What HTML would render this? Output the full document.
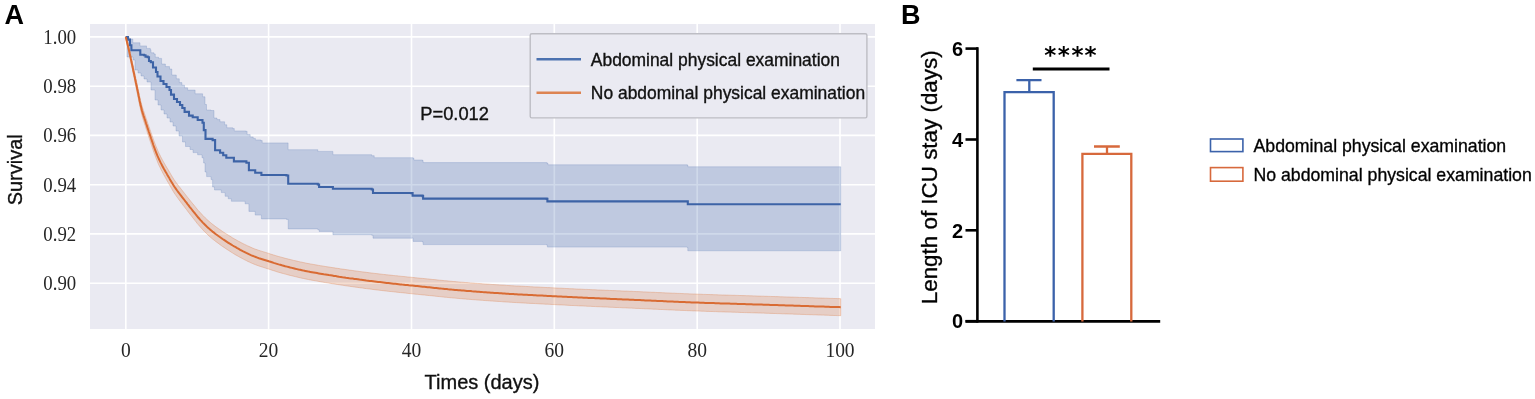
<!DOCTYPE html>
<html><head><meta charset="utf-8"><style>
html,body{margin:0;padding:0;background:#fff;}
body{width:1535px;height:399px;overflow:hidden;}
svg{display:block;}
.sans{font-family:"Liberation Sans",Arial,sans-serif;}
.heavy{stroke:#111;stroke-width:0.35px;}
.serif{font-family:"Liberation Serif","Times New Roman",serif;}
</style></head><body>
<svg width="1535" height="399" viewBox="0 0 1535 399">
<rect x="0" y="0" width="1535" height="399" fill="#fff"/>
<!-- Panel A -->
<text class="sans" x="4.6" y="24" font-size="27" font-weight="bold" fill="#000">A</text>
<rect x="90" y="24" width="785" height="305" fill="#EAEAF2"/>
<g stroke="#fff" stroke-width="1.6">
<line x1="90" y1="36.9" x2="875" y2="36.9"/>
<line x1="90" y1="86.2" x2="875" y2="86.2"/>
<line x1="90" y1="135.4" x2="875" y2="135.4"/>
<line x1="90" y1="184.7" x2="875" y2="184.7"/>
<line x1="90" y1="233.9" x2="875" y2="233.9"/>
<line x1="90" y1="283.2" x2="875" y2="283.2"/>
<line x1="125.8" y1="24" x2="125.8" y2="329"/>
<line x1="268.6" y1="24" x2="268.6" y2="329"/>
<line x1="411.5" y1="24" x2="411.5" y2="329"/>
<line x1="554.3" y1="24" x2="554.3" y2="329"/>
<line x1="697.2" y1="24" x2="697.2" y2="329"/>
<line x1="840.0" y1="24" x2="840.0" y2="329"/>
</g>
<path d="M125.8 37 L129 37 L129 39 L132.8 39 L132.8 42.8 L140 42.8 L140 45.9 L146.5 45.9 L146.5 48.4 L150.3 48.4 L150.3 49.7 L151 49.7 L151 52.8 L154 52.8 L154 54 L155.3 54 L155.3 57.2 L158.5 57.2 L158.5 58.4 L161.6 58.4 L161.6 64 L165.4 64 L165.4 66.6 L169.5 66.6 L169.5 69 L171.8 69 L171.8 75 L176.3 75 L176.3 78.8 L179.3 78.8 L179.3 82.6 L181.9 82.6 L181.9 85.2 L184.5 85.2 L184.5 87.8 L187.6 87.8 L187.6 90.1 L195.1 90.1 L195.1 93.8 L202.6 93.8 L202.6 96.8 L205 96.8 L205 104.5 L206.5 104.5 L206.5 110 L211 110 L211 110.5 L214 110.5 L214 118 L217 118 L217 119.6 L220 119.6 L220 121.8 L224.6 121.8 L224.6 124.8 L226.8 124.8 L226.8 127.8 L232.8 127.8 L232.8 128.6 L234.3 128.6 L234.3 130.9 L245.6 130.9 L245.6 131.3 L247.1 131.3 L247.1 134.6 L250.2 134.6 L250.2 136.9 L253.2 136.9 L253.2 138.4 L255.4 138.4 L255.4 139.9 L260.7 139.9 L260.7 140.6 L262.2 140.6 L262.2 142.9 L287 142.9 L287 142.9 L288.1 142.9 L288.1 149.7 L317.8 149.7 L317.8 151.4 L332.9 151.4 L332.9 154.7 L371.7 154.7 L371.7 155.7 L374.2 155.7 L374.2 157.7 L412.6 157.7 L412.6 158 L413.8 158 L413.8 160 L422.6 160 L422.6 160.6 L423.1 160.6 L423.1 162.6 L546.7 162.6 L546.7 163.1 L547.9 163.1 L547.9 164.8 L687.3 164.8 L687.3 165.1 L687.8 165.1 L687.8 166.8 L840.7 166.8 L840.7 166.8 L840.7 250.8 L840.7 250.8 L687.8 250.8 L687.8 247.5 L687.3 247.5 L687.3 247.1 L547.4 247.1 L547.4 245.1 L546.7 245.1 L546.7 244.6 L423.1 244.6 L423.1 242.1 L422.6 242.1 L422.6 241.4 L413.1 241.4 L413.1 238.1 L412.1 238.1 L412.1 238.2 L373 238.2 L373 235.2 L371.7 235.2 L371.7 234.7 L332.9 234.7 L332.9 231.4 L319.1 231.4 L319.1 229.6 L317.8 229.6 L317.8 228.9 L288.2 228.9 L288.2 219.4 L286.5 219.4 L286.5 218.9 L261.4 218.9 L261.4 215.1 L255.2 215.1 L255.2 211.4 L248.9 211.4 L248.9 203.8 L245.1 203.8 L245.1 201.3 L231.4 201.3 L231.4 198.8 L228.2 198.8 L228.2 196.3 L225.1 196.3 L225.1 192.6 L221.3 192.6 L221.3 190 L214.5 190 L214.5 187 L212.6 187 L212.6 179.6 L211 179.6 L211 176.6 L206.6 176.6 L206.6 172 L205 172 L205 163 L203.6 163 L203.6 157.8 L202 157.8 L202 154.8 L197.6 154.8 L197.6 152.6 L193 152.6 L193 149.5 L190 149.5 L190 146.5 L185.5 146.5 L185.5 142 L182.5 142 L182.5 136 L179 136 L179 131 L176 131 L176 126 L173 126 L173 122 L170 122 L170 118 L167 118 L167 114 L164 114 L164 110 L161 110 L161 105 L158 105 L158 100 L155 100 L155 90 L151 90 L151 82 L147 82 L147 79 L144 79 L144 76 L141 76 L141 73 L138 73 L138 70 L135 70 L135 60 L133 60 L133 57 L127 57 L127 37 L125.8 37Z" fill="#4C72B0" fill-opacity="0.27" stroke="#4C72B0" stroke-opacity="0.22" stroke-width="1"/>
<path d="M125.8 36.0 L126.2 37.1 L126.6 38.5 L127.0 40.0 L127.4 41.5 L127.8 43.0 L128.2 44.6 L128.6 46.1 L129.0 47.7 L129.4 49.3 L129.7 50.8 L130.1 52.4 L130.5 54.0 L130.8 55.6 L131.2 57.2 L131.5 58.8 L131.9 60.4 L132.3 62.0 L132.6 63.6 L133.0 65.2 L133.3 66.8 L133.7 68.5 L134.1 70.1 L134.4 71.7 L134.8 73.3 L135.1 74.9 L135.5 76.5 L135.8 78.2 L136.2 79.8 L136.5 81.4 L136.9 83.0 L137.2 84.7 L137.6 86.3 L137.9 87.9 L138.3 89.5 L138.6 91.2 L139.0 92.8 L139.3 94.5 L139.6 96.1 L140.0 97.7 L140.4 99.3 L140.7 101.0 L141.2 102.6 L141.6 104.2 L142.0 105.8 L142.5 107.4 L143.0 109.0 L143.5 110.6 L144.1 112.2 L144.6 113.8 L145.2 115.4 L145.7 117.0 L146.2 118.6 L146.8 120.1 L147.3 121.7 L147.8 123.3 L148.4 124.9 L148.9 126.5 L149.5 128.1 L150.0 129.7 L150.6 131.3 L151.1 132.9 L151.7 134.4 L152.2 136.0 L152.8 137.6 L153.3 139.2 L153.9 140.8 L154.5 142.4 L155.1 144.0 L155.7 145.5 L156.3 147.1 L157.0 148.6 L157.6 150.2 L158.3 151.7 L159.0 153.3 L159.8 154.8 L160.5 156.3 L161.3 157.8 L162.1 159.3 L162.9 160.8 L163.7 162.2 L164.6 163.7 L165.4 165.2 L166.3 166.6 L167.1 168.1 L168.0 169.5 L168.9 171.0 L169.7 172.4 L170.6 173.9 L171.5 175.4 L172.3 176.8 L173.2 178.2 L174.1 179.7 L175.1 181.1 L176.1 182.5 L177.1 183.8 L178.1 185.2 L179.1 186.5 L180.2 187.8 L181.2 189.2 L182.3 190.5 L183.3 191.8 L184.4 193.2 L185.4 194.5 L186.5 195.9 L187.5 197.2 L188.6 198.5 L189.6 199.8 L190.7 201.2 L191.8 202.5 L192.8 203.8 L193.9 205.1 L195.0 206.4 L196.1 207.8 L197.1 209.1 L198.2 210.4 L199.4 211.6 L200.5 212.9 L201.7 214.1 L202.8 215.4 L204.0 216.6 L205.2 217.8 L206.5 219.0 L207.7 220.1 L209.0 221.3 L210.3 222.4 L211.6 223.5 L212.9 224.5 L214.3 225.6 L215.6 226.6 L217.0 227.6 L218.4 228.6 L219.8 229.5 L221.2 230.5 L222.6 231.5 L224.0 232.4 L225.5 233.4 L226.9 234.3 L228.4 235.2 L229.8 236.1 L231.3 237.0 L232.7 237.9 L234.2 238.8 L235.7 239.6 L237.2 240.5 L238.7 241.3 L240.2 242.1 L241.7 242.9 L243.2 243.7 L244.7 244.4 L246.3 245.2 L247.8 245.9 L249.4 246.6 L250.9 247.3 L252.5 248.0 L254.1 248.7 L255.7 249.3 L257.3 249.8 L258.9 250.4 L260.6 250.9 L262.2 251.4 L263.8 251.9 L265.5 252.4 L267.1 252.9 L268.8 253.4 L270.4 254.0 L272.0 254.5 L273.7 255.0 L275.3 255.5 L276.9 256.0 L278.6 256.5 L280.2 256.9 L281.9 257.4 L283.5 257.8 L285.2 258.3 L286.9 258.7 L288.5 259.1 L290.2 259.5 L291.9 259.9 L293.5 260.4 L295.2 260.7 L296.9 261.1 L298.5 261.5 L300.2 261.9 L301.9 262.2 L303.6 262.6 L305.2 262.9 L306.9 263.3 L308.6 263.6 L310.3 263.9 L312.0 264.2 L313.7 264.5 L315.4 264.8 L317.1 265.1 L318.7 265.4 L320.4 265.7 L322.1 265.9 L323.8 266.2 L325.5 266.5 L327.2 266.8 L328.9 267.0 L330.6 267.3 L332.3 267.6 L334.0 267.8 L335.7 268.1 L337.4 268.3 L339.1 268.6 L340.8 268.9 L342.5 269.1 L344.2 269.3 L345.9 269.6 L347.6 269.8 L349.3 270.1 L351.0 270.3 L352.7 270.5 L354.4 270.8 L356.1 271.0 L357.8 271.2 L359.5 271.5 L361.2 271.7 L362.9 271.9 L364.6 272.1 L366.3 272.3 L368.0 272.6 L369.7 272.8 L371.4 273.0 L373.1 273.2 L374.8 273.4 L376.5 273.6 L378.2 273.8 L379.9 274.0 L381.6 274.2 L383.3 274.4 L385.0 274.6 L386.7 274.8 L388.4 274.9 L390.1 275.1 L391.8 275.3 L393.5 275.5 L395.3 275.7 L397.0 275.8 L398.7 276.0 L400.4 276.2 L402.1 276.4 L403.8 276.5 L405.5 276.7 L407.2 276.9 L408.9 277.1 L410.6 277.2 L412.3 277.4 L414.0 277.6 L415.7 277.8 L417.4 277.9 L419.1 278.1 L420.9 278.3 L422.6 278.4 L424.3 278.6 L426.0 278.8 L427.7 278.9 L429.4 279.1 L431.1 279.3 L432.8 279.5 L434.5 279.6 L436.2 279.8 L437.9 280.0 L439.6 280.2 L441.3 280.3 L443.1 280.5 L444.8 280.7 L446.5 280.8 L448.2 281.0 L449.9 281.2 L451.6 281.3 L453.3 281.5 L455.0 281.6 L456.7 281.8 L458.4 281.9 L460.1 282.1 L461.8 282.2 L463.6 282.3 L465.3 282.5 L467.0 282.6 L468.7 282.7 L470.4 282.9 L472.1 283.0 L473.8 283.1 L475.5 283.3 L477.2 283.4 L479.0 283.5 L480.7 283.6 L482.4 283.8 L484.1 283.9 L485.8 284.0 L487.5 284.1 L489.2 284.2 L490.9 284.4 L492.7 284.5 L494.4 284.6 L496.1 284.7 L497.8 284.8 L499.5 284.9 L501.2 285.0 L502.9 285.1 L504.6 285.2 L506.4 285.4 L508.1 285.5 L509.8 285.6 L511.5 285.7 L513.2 285.8 L514.9 285.9 L516.6 286.0 L518.3 286.0 L520.1 286.1 L521.8 286.2 L523.5 286.3 L525.2 286.4 L526.9 286.5 L528.6 286.6 L530.3 286.7 L532.1 286.8 L533.8 286.9 L535.5 287.0 L537.2 287.0 L538.9 287.1 L540.6 287.2 L542.3 287.3 L544.0 287.4 L545.8 287.5 L547.5 287.6 L549.2 287.6 L550.9 287.7 L552.6 287.8 L554.3 287.9 L556.0 288.0 L557.8 288.1 L559.5 288.2 L561.2 288.2 L562.9 288.3 L564.6 288.4 L566.3 288.5 L568.0 288.6 L569.8 288.7 L571.5 288.7 L573.2 288.8 L574.9 288.9 L576.6 289.0 L578.3 289.1 L580.0 289.1 L581.8 289.2 L583.5 289.3 L585.2 289.4 L586.9 289.4 L588.6 289.5 L590.3 289.6 L592.0 289.7 L593.8 289.7 L595.5 289.8 L597.2 289.9 L598.9 290.0 L600.6 290.0 L602.3 290.1 L604.0 290.2 L605.8 290.3 L607.5 290.3 L609.2 290.4 L610.9 290.5 L612.6 290.6 L614.3 290.6 L616.0 290.7 L617.8 290.8 L619.5 290.8 L621.2 290.9 L622.9 291.0 L624.6 291.1 L626.3 291.1 L628.0 291.2 L629.8 291.3 L631.5 291.3 L633.2 291.4 L634.9 291.5 L636.6 291.6 L638.3 291.6 L640.0 291.7 L641.8 291.8 L643.5 291.9 L645.2 291.9 L646.9 292.0 L648.6 292.1 L650.3 292.2 L652.0 292.3 L653.8 292.3 L655.5 292.4 L657.2 292.5 L658.9 292.6 L660.6 292.6 L662.3 292.7 L664.0 292.8 L665.8 292.9 L667.5 292.9 L669.2 293.0 L670.9 293.1 L672.6 293.2 L674.3 293.2 L676.0 293.3 L677.8 293.4 L679.5 293.4 L681.2 293.5 L682.9 293.6 L684.6 293.7 L686.3 293.7 L688.1 293.8 L689.8 293.9 L691.5 293.9 L693.2 294.0 L694.9 294.0 L696.6 294.1 L698.3 294.2 L700.1 294.2 L701.8 294.3 L703.5 294.4 L705.2 294.4 L706.9 294.5 L708.6 294.5 L710.3 294.6 L712.1 294.6 L713.8 294.7 L715.5 294.7 L717.2 294.8 L718.9 294.9 L720.6 294.9 L722.4 295.0 L724.1 295.0 L725.8 295.1 L727.5 295.1 L729.2 295.2 L730.9 295.2 L732.6 295.3 L734.4 295.3 L736.1 295.4 L737.8 295.4 L739.5 295.5 L741.2 295.5 L742.9 295.6 L744.7 295.6 L746.4 295.7 L748.1 295.7 L749.8 295.8 L751.5 295.8 L753.2 295.9 L754.9 295.9 L756.7 296.0 L758.4 296.1 L760.1 296.1 L761.8 296.2 L763.5 296.2 L765.2 296.3 L766.9 296.3 L768.7 296.4 L770.4 296.4 L772.1 296.5 L773.8 296.5 L775.5 296.6 L777.2 296.6 L779.0 296.7 L780.7 296.8 L782.4 296.8 L784.1 296.9 L785.8 296.9 L787.5 297.0 L789.2 297.0 L791.0 297.1 L792.7 297.1 L794.4 297.2 L796.1 297.2 L797.8 297.3 L799.5 297.4 L801.3 297.4 L803.0 297.5 L804.7 297.5 L806.4 297.6 L808.1 297.6 L809.8 297.7 L811.5 297.7 L813.3 297.8 L815.0 297.9 L816.7 297.9 L818.4 298.0 L820.1 298.0 L821.8 298.1 L823.5 298.1 L825.3 298.2 L827.0 298.2 L828.7 298.3 L830.4 298.4 L832.1 298.4 L833.8 298.5 L835.6 298.5 L837.3 298.6 L839.0 298.6 L840.7 298.7 L840.7 315.7 L839.0 315.6 L837.3 315.6 L835.6 315.5 L833.8 315.5 L832.1 315.4 L830.4 315.4 L828.7 315.3 L827.0 315.2 L825.3 315.2 L823.5 315.1 L821.8 315.1 L820.1 315.0 L818.4 315.0 L816.7 314.9 L815.0 314.8 L813.3 314.8 L811.5 314.7 L809.8 314.7 L808.1 314.6 L806.4 314.6 L804.7 314.5 L803.0 314.4 L801.3 314.4 L799.5 314.3 L797.8 314.3 L796.1 314.2 L794.4 314.2 L792.7 314.1 L791.0 314.0 L789.2 314.0 L787.5 313.9 L785.8 313.9 L784.1 313.8 L782.4 313.8 L780.7 313.7 L779.0 313.6 L777.2 313.6 L775.5 313.5 L773.8 313.5 L772.1 313.4 L770.4 313.4 L768.7 313.3 L766.9 313.3 L765.2 313.2 L763.5 313.1 L761.8 313.1 L760.1 313.0 L758.4 313.0 L756.7 312.9 L754.9 312.9 L753.2 312.8 L751.5 312.8 L749.8 312.7 L748.1 312.7 L746.4 312.6 L744.7 312.6 L742.9 312.5 L741.2 312.5 L739.5 312.4 L737.8 312.3 L736.1 312.3 L734.4 312.2 L732.6 312.2 L730.9 312.1 L729.2 312.1 L727.5 312.0 L725.8 312.0 L724.1 311.9 L722.4 311.9 L720.6 311.8 L718.9 311.8 L717.2 311.7 L715.5 311.6 L713.8 311.6 L712.1 311.5 L710.3 311.5 L708.6 311.4 L706.9 311.4 L705.2 311.3 L703.5 311.2 L701.8 311.2 L700.1 311.1 L698.3 311.0 L696.6 311.0 L694.9 310.9 L693.2 310.9 L691.5 310.8 L689.8 310.7 L688.1 310.7 L686.3 310.6 L684.6 310.5 L682.9 310.4 L681.2 310.4 L679.5 310.3 L677.8 310.2 L676.0 310.2 L674.3 310.1 L672.6 310.0 L670.9 309.9 L669.2 309.9 L667.5 309.8 L665.8 309.7 L664.0 309.6 L662.3 309.5 L660.6 309.5 L658.9 309.4 L657.2 309.3 L655.5 309.2 L653.8 309.2 L652.0 309.1 L650.3 309.0 L648.6 308.9 L646.9 308.8 L645.2 308.8 L643.5 308.7 L641.8 308.6 L640.0 308.5 L638.3 308.4 L636.6 308.4 L634.9 308.3 L633.2 308.2 L631.5 308.1 L629.8 308.1 L628.0 308.0 L626.3 307.9 L624.6 307.8 L622.9 307.8 L621.2 307.7 L619.5 307.6 L617.8 307.5 L616.0 307.5 L614.3 307.4 L612.6 307.3 L610.9 307.3 L609.2 307.2 L607.5 307.1 L605.8 307.0 L604.0 307.0 L602.3 306.9 L600.6 306.8 L598.9 306.7 L597.2 306.7 L595.5 306.6 L593.8 306.5 L592.0 306.4 L590.3 306.3 L588.6 306.3 L586.9 306.2 L585.2 306.1 L583.5 306.0 L581.8 305.9 L580.0 305.9 L578.3 305.8 L576.6 305.7 L574.9 305.6 L573.2 305.5 L571.5 305.5 L569.8 305.4 L568.0 305.3 L566.3 305.2 L564.6 305.1 L562.9 305.0 L561.2 304.9 L559.5 304.9 L557.8 304.8 L556.0 304.7 L554.3 304.6 L552.6 304.5 L550.9 304.4 L549.2 304.3 L547.5 304.2 L545.8 304.2 L544.0 304.1 L542.3 304.0 L540.6 303.9 L538.9 303.8 L537.2 303.7 L535.5 303.6 L533.8 303.5 L532.1 303.4 L530.3 303.4 L528.6 303.3 L526.9 303.2 L525.2 303.1 L523.5 303.0 L521.8 302.9 L520.1 302.8 L518.3 302.7 L516.6 302.6 L514.9 302.5 L513.2 302.4 L511.5 302.3 L509.8 302.2 L508.1 302.1 L506.4 302.0 L504.6 301.9 L502.9 301.8 L501.2 301.6 L499.5 301.5 L497.8 301.4 L496.1 301.3 L494.4 301.2 L492.7 301.1 L490.9 301.0 L489.2 300.8 L487.5 300.7 L485.8 300.6 L484.1 300.5 L482.4 300.3 L480.7 300.2 L479.0 300.1 L477.2 300.0 L475.5 299.8 L473.8 299.7 L472.1 299.6 L470.4 299.4 L468.7 299.3 L467.0 299.2 L465.3 299.0 L463.6 298.9 L461.8 298.7 L460.1 298.6 L458.4 298.4 L456.7 298.3 L455.0 298.1 L453.3 298.0 L451.6 297.8 L449.9 297.7 L448.2 297.5 L446.5 297.3 L444.8 297.2 L443.1 297.0 L441.3 296.8 L439.6 296.6 L437.9 296.4 L436.2 296.3 L434.5 296.1 L432.8 295.9 L431.1 295.7 L429.4 295.6 L427.7 295.4 L426.0 295.2 L424.3 295.0 L422.6 294.9 L420.9 294.7 L419.1 294.5 L417.4 294.3 L415.7 294.2 L414.0 294.0 L412.3 293.8 L410.6 293.6 L408.9 293.5 L407.2 293.3 L405.5 293.1 L403.8 292.9 L402.1 292.7 L400.4 292.6 L398.7 292.4 L397.0 292.2 L395.3 292.0 L393.5 291.8 L391.8 291.6 L390.1 291.5 L388.4 291.3 L386.7 291.1 L385.0 290.9 L383.3 290.7 L381.6 290.5 L379.9 290.3 L378.2 290.1 L376.5 289.9 L374.8 289.7 L373.1 289.5 L371.4 289.2 L369.7 289.0 L368.0 288.8 L366.3 288.6 L364.6 288.4 L362.9 288.1 L361.2 287.9 L359.5 287.7 L357.8 287.4 L356.1 287.2 L354.4 287.0 L352.7 286.7 L351.0 286.5 L349.3 286.2 L347.6 286.0 L345.9 285.8 L344.2 285.5 L342.5 285.2 L340.8 285.0 L339.1 284.7 L337.4 284.5 L335.7 284.2 L334.0 283.9 L332.3 283.7 L330.6 283.4 L328.9 283.1 L327.2 282.8 L325.5 282.6 L323.8 282.3 L322.1 282.0 L320.4 281.7 L318.7 281.4 L317.1 281.1 L315.4 280.8 L313.7 280.5 L312.0 280.2 L310.3 279.9 L308.6 279.6 L306.9 279.2 L305.2 278.9 L303.6 278.5 L301.9 278.2 L300.2 277.8 L298.5 277.4 L296.9 277.0 L295.2 276.6 L293.5 276.2 L291.9 275.8 L290.2 275.4 L288.5 275.0 L286.9 274.5 L285.2 274.1 L283.5 273.6 L281.9 273.2 L280.2 272.7 L278.6 272.3 L276.9 271.8 L275.3 271.2 L273.7 270.7 L272.0 270.2 L270.4 269.6 L268.8 269.1 L267.1 268.6 L265.5 268.1 L263.8 267.5 L262.2 267.0 L260.6 266.5 L258.9 266.0 L257.3 265.4 L255.7 264.8 L254.1 264.2 L252.5 263.5 L250.9 262.8 L249.4 262.1 L247.8 261.4 L246.3 260.6 L244.7 259.8 L243.2 259.0 L241.7 258.2 L240.2 257.4 L238.7 256.6 L237.2 255.7 L235.7 254.9 L234.2 254.0 L232.7 253.1 L231.3 252.2 L229.8 251.2 L228.4 250.3 L226.9 249.4 L225.5 248.4 L224.0 247.4 L222.6 246.5 L221.2 245.5 L219.8 244.5 L218.4 243.4 L217.0 242.4 L215.6 241.4 L214.3 240.3 L212.9 239.3 L211.6 238.2 L210.3 237.1 L209.0 235.9 L207.7 234.7 L206.5 233.5 L205.2 232.3 L204.0 231.1 L202.8 229.8 L201.7 228.5 L200.5 227.2 L199.4 225.9 L198.2 224.6 L197.1 223.3 L196.1 221.9 L195.0 220.6 L193.9 219.2 L192.8 217.8 L191.8 216.5 L190.7 215.1 L189.6 213.7 L188.6 212.4 L187.5 211.0 L186.5 209.6 L185.4 208.2 L184.4 206.8 L183.3 205.5 L182.3 204.1 L181.2 202.7 L180.2 201.3 L179.1 199.9 L178.1 198.5 L177.1 197.1 L176.1 195.7 L175.1 194.3 L174.1 192.8 L173.2 191.3 L172.3 189.9 L171.5 188.3 L170.6 186.8 L169.7 185.3 L168.9 183.8 L168.0 182.3 L167.1 180.8 L166.3 179.3 L165.4 177.7 L164.6 176.2 L163.7 174.7 L162.9 173.2 L162.1 171.6 L161.3 170.1 L160.5 168.5 L159.8 166.9 L159.0 165.4 L158.3 163.8 L157.6 162.2 L157.0 160.5 L156.3 158.9 L155.7 157.3 L155.1 155.7 L154.5 154.0 L153.9 152.4 L153.3 150.7 L152.8 149.0 L152.2 147.4 L151.7 145.7 L151.1 144.1 L150.6 142.4 L150.0 140.7 L149.5 139.1 L148.9 137.4 L148.4 135.7 L147.8 134.1 L147.3 132.4 L146.8 130.7 L146.2 129.1 L145.7 127.4 L145.2 125.7 L144.6 124.0 L144.1 122.4 L143.5 120.7 L143.0 119.0 L142.5 117.3 L142.0 115.6 L141.6 114.0 L141.2 112.2 L140.7 110.5 L140.4 108.8 L140.0 107.1 L139.6 105.4 L139.3 103.6 L139.0 101.9 L138.6 100.2 L138.3 98.4 L137.9 96.7 L137.6 95.0 L137.2 93.2 L136.9 91.5 L136.5 89.8 L136.2 88.0 L135.8 86.3 L135.5 84.6 L135.1 82.8 L134.8 81.1 L134.4 79.3 L134.1 77.6 L133.7 75.9 L133.3 74.1 L133.0 72.4 L132.6 70.6 L132.3 68.9 L131.9 67.1 L131.5 65.4 L131.2 63.6 L130.8 61.9 L130.5 60.1 L130.1 58.3 L129.7 56.6 L129.4 54.8 L129.0 53.0 L128.6 51.2 L128.2 49.4 L127.8 47.7 L127.4 45.8 L127.0 44.0 L126.6 42.2 L126.2 40.3 L125.8 38.0Z" fill="#DD8452" fill-opacity="0.27" stroke="#DD8452" stroke-opacity="0.4" stroke-width="0.9"/>
<path d="M125.8 37H128V39.6H130V45.3H131.4V50.3H140.3V54.7H144V55.3H145.5V56.6H147.7V57.2H149V61H150.8V62.3H153V67.5H156V72H157.5V76.5H160.5V81H163.5V84H166.5V87H169.5V90H171V94.6H174V99H177V102H180V105H182.3V108H184.6V111.9H189V115.6H192.7V117.2H197.7V120H202.5V122.8H203.8V130.1H205.5V138.9H212.6V140.1H215.1V150.2H220.1V152.7H223.2V155.2H226.3V157.7H233.9V161.4H246.4V162.7H248.9V170.2H255.2V172.7H261.4V175H286.5V175.5H288.2V183.8H317.8V184.5H319.1V187H332.9V188.8H371.7V189.5H373V193H411.3V193.1H412.6V195.6H422.6V196.1H423.1V198.6H546.7V198.9H547.4V201.4H687.3V201.4H687.8V204.2H840.7V204.2" fill="none" stroke="#3D63A6" stroke-width="2.1" stroke-linejoin="miter"/>
<path d="M125.8 37.0 L126.2 38.7 L126.6 40.3 L127.0 42.0 L127.4 43.7 L127.8 45.3 L128.2 47.0 L128.6 48.7 L129.0 50.4 L129.4 52.0 L129.7 53.7 L130.1 55.4 L130.5 57.1 L130.8 58.7 L131.2 60.4 L131.5 62.1 L131.9 63.8 L132.3 65.4 L132.6 67.1 L133.0 68.8 L133.3 70.5 L133.7 72.2 L134.1 73.8 L134.4 75.5 L134.8 77.2 L135.1 78.9 L135.5 80.6 L135.8 82.2 L136.2 83.9 L136.5 85.6 L136.9 87.3 L137.2 89.0 L137.6 90.6 L137.9 92.3 L138.3 94.0 L138.6 95.7 L139.0 97.4 L139.3 99.0 L139.6 100.7 L140.0 102.4 L140.4 104.1 L140.7 105.8 L141.2 107.4 L141.6 109.1 L142.0 110.7 L142.5 112.4 L143.0 114.0 L143.5 115.6 L144.1 117.3 L144.6 118.9 L145.2 120.5 L145.7 122.2 L146.2 123.8 L146.8 125.4 L147.3 127.1 L147.8 128.7 L148.4 130.3 L148.9 132.0 L149.5 133.6 L150.0 135.2 L150.6 136.8 L151.1 138.5 L151.7 140.1 L152.2 141.7 L152.8 143.3 L153.3 145.0 L153.9 146.6 L154.5 148.2 L155.1 149.8 L155.7 151.4 L156.3 153.0 L157.0 154.6 L157.6 156.2 L158.3 157.7 L159.0 159.3 L159.8 160.9 L160.5 162.4 L161.3 163.9 L162.1 165.5 L162.9 167.0 L163.7 168.5 L164.6 170.0 L165.4 171.5 L166.3 172.9 L167.1 174.4 L168.0 175.9 L168.9 177.4 L169.7 178.9 L170.6 180.4 L171.5 181.9 L172.3 183.3 L173.2 184.8 L174.1 186.2 L175.1 187.7 L176.1 189.1 L177.1 190.5 L178.1 191.8 L179.1 193.2 L180.2 194.6 L181.2 195.9 L182.3 197.3 L183.3 198.6 L184.4 200.0 L185.4 201.4 L186.5 202.7 L187.5 204.1 L188.6 205.4 L189.6 206.8 L190.7 208.1 L191.8 209.5 L192.8 210.8 L193.9 212.2 L195.0 213.5 L196.1 214.9 L197.1 216.2 L198.2 217.5 L199.4 218.8 L200.5 220.1 L201.7 221.3 L202.8 222.6 L204.0 223.8 L205.2 225.0 L206.5 226.3 L207.7 227.4 L209.0 228.6 L210.3 229.7 L211.6 230.8 L212.9 231.9 L214.3 232.9 L215.6 234.0 L217.0 235.0 L218.4 236.0 L219.8 237.0 L221.2 238.0 L222.6 239.0 L224.0 239.9 L225.5 240.9 L226.9 241.8 L228.4 242.8 L229.8 243.7 L231.3 244.6 L232.7 245.5 L234.2 246.4 L235.7 247.2 L237.2 248.1 L238.7 248.9 L240.2 249.8 L241.7 250.6 L243.2 251.4 L244.7 252.1 L246.3 252.9 L247.8 253.6 L249.4 254.4 L250.9 255.1 L252.5 255.8 L254.1 256.4 L255.7 257.0 L257.3 257.6 L258.9 258.2 L260.6 258.7 L262.2 259.2 L263.8 259.7 L265.5 260.2 L267.1 260.7 L268.8 261.3 L270.4 261.8 L272.0 262.3 L273.7 262.9 L275.3 263.4 L276.9 263.9 L278.6 264.4 L280.2 264.8 L281.9 265.3 L283.5 265.7 L285.2 266.2 L286.9 266.6 L288.5 267.0 L290.2 267.5 L291.9 267.9 L293.5 268.3 L295.2 268.7 L296.9 269.1 L298.5 269.5 L300.2 269.8 L301.9 270.2 L303.6 270.6 L305.2 270.9 L306.9 271.2 L308.6 271.6 L310.3 271.9 L312.0 272.2 L313.7 272.5 L315.4 272.8 L317.1 273.1 L318.7 273.4 L320.4 273.7 L322.1 274.0 L323.8 274.3 L325.5 274.5 L327.2 274.8 L328.9 275.1 L330.6 275.3 L332.3 275.6 L334.0 275.9 L335.7 276.1 L337.4 276.4 L339.1 276.7 L340.8 276.9 L342.5 277.2 L344.2 277.4 L345.9 277.7 L347.6 277.9 L349.3 278.2 L351.0 278.4 L352.7 278.6 L354.4 278.9 L356.1 279.1 L357.8 279.3 L359.5 279.6 L361.2 279.8 L362.9 280.0 L364.6 280.2 L366.3 280.5 L368.0 280.7 L369.7 280.9 L371.4 281.1 L373.1 281.3 L374.8 281.5 L376.5 281.7 L378.2 281.9 L379.9 282.1 L381.6 282.3 L383.3 282.5 L385.0 282.7 L386.7 282.9 L388.4 283.1 L390.1 283.3 L391.8 283.5 L393.5 283.7 L395.3 283.8 L397.0 284.0 L398.7 284.2 L400.4 284.4 L402.1 284.6 L403.8 284.7 L405.5 284.9 L407.2 285.1 L408.9 285.3 L410.6 285.4 L412.3 285.6 L414.0 285.8 L415.7 286.0 L417.4 286.1 L419.1 286.3 L420.9 286.5 L422.6 286.7 L424.3 286.8 L426.0 287.0 L427.7 287.2 L429.4 287.3 L431.1 287.5 L432.8 287.7 L434.5 287.9 L436.2 288.0 L437.9 288.2 L439.6 288.4 L441.3 288.6 L443.1 288.7 L444.8 288.9 L446.5 289.1 L448.2 289.3 L449.9 289.4 L451.6 289.6 L453.3 289.7 L455.0 289.9 L456.7 290.0 L458.4 290.2 L460.1 290.3 L461.8 290.5 L463.6 290.6 L465.3 290.7 L467.0 290.9 L468.7 291.0 L470.4 291.1 L472.1 291.3 L473.8 291.4 L475.5 291.5 L477.2 291.7 L479.0 291.8 L480.7 291.9 L482.4 292.1 L484.1 292.2 L485.8 292.3 L487.5 292.4 L489.2 292.5 L490.9 292.7 L492.7 292.8 L494.4 292.9 L496.1 293.0 L497.8 293.1 L499.5 293.2 L501.2 293.3 L502.9 293.5 L504.6 293.6 L506.4 293.7 L508.1 293.8 L509.8 293.9 L511.5 294.0 L513.2 294.1 L514.9 294.2 L516.6 294.3 L518.3 294.4 L520.1 294.5 L521.8 294.6 L523.5 294.7 L525.2 294.7 L526.9 294.8 L528.6 294.9 L530.3 295.0 L532.1 295.1 L533.8 295.2 L535.5 295.3 L537.2 295.4 L538.9 295.5 L540.6 295.6 L542.3 295.6 L544.0 295.7 L545.8 295.8 L547.5 295.9 L549.2 296.0 L550.9 296.1 L552.6 296.2 L554.3 296.2 L556.0 296.3 L557.8 296.4 L559.5 296.5 L561.2 296.6 L562.9 296.7 L564.6 296.8 L566.3 296.8 L568.0 296.9 L569.8 297.0 L571.5 297.1 L573.2 297.2 L574.9 297.3 L576.6 297.3 L578.3 297.4 L580.0 297.5 L581.8 297.6 L583.5 297.7 L585.2 297.7 L586.9 297.8 L588.6 297.9 L590.3 298.0 L592.0 298.0 L593.8 298.1 L595.5 298.2 L597.2 298.3 L598.9 298.3 L600.6 298.4 L602.3 298.5 L604.0 298.6 L605.8 298.6 L607.5 298.7 L609.2 298.8 L610.9 298.9 L612.6 298.9 L614.3 299.0 L616.0 299.1 L617.8 299.2 L619.5 299.2 L621.2 299.3 L622.9 299.4 L624.6 299.5 L626.3 299.5 L628.0 299.6 L629.8 299.7 L631.5 299.7 L633.2 299.8 L634.9 299.9 L636.6 300.0 L638.3 300.0 L640.0 300.1 L641.8 300.2 L643.5 300.3 L645.2 300.4 L646.9 300.4 L648.6 300.5 L650.3 300.6 L652.0 300.7 L653.8 300.7 L655.5 300.8 L657.2 300.9 L658.9 301.0 L660.6 301.0 L662.3 301.1 L664.0 301.2 L665.8 301.3 L667.5 301.4 L669.2 301.4 L670.9 301.5 L672.6 301.6 L674.3 301.7 L676.0 301.7 L677.8 301.8 L679.5 301.9 L681.2 301.9 L682.9 302.0 L684.6 302.1 L686.3 302.2 L688.1 302.2 L689.8 302.3 L691.5 302.4 L693.2 302.4 L694.9 302.5 L696.6 302.5 L698.3 302.6 L700.1 302.7 L701.8 302.7 L703.5 302.8 L705.2 302.9 L706.9 302.9 L708.6 303.0 L710.3 303.0 L712.1 303.1 L713.8 303.1 L715.5 303.2 L717.2 303.3 L718.9 303.3 L720.6 303.4 L722.4 303.4 L724.1 303.5 L725.8 303.5 L727.5 303.6 L729.2 303.6 L730.9 303.7 L732.6 303.7 L734.4 303.8 L736.1 303.8 L737.8 303.9 L739.5 303.9 L741.2 304.0 L742.9 304.0 L744.7 304.1 L746.4 304.2 L748.1 304.2 L749.8 304.3 L751.5 304.3 L753.2 304.4 L754.9 304.4 L756.7 304.5 L758.4 304.5 L760.1 304.6 L761.8 304.6 L763.5 304.7 L765.2 304.7 L766.9 304.8 L768.7 304.8 L770.4 304.9 L772.1 305.0 L773.8 305.0 L775.5 305.1 L777.2 305.1 L779.0 305.2 L780.7 305.2 L782.4 305.3 L784.1 305.3 L785.8 305.4 L787.5 305.5 L789.2 305.5 L791.0 305.6 L792.7 305.6 L794.4 305.7 L796.1 305.7 L797.8 305.8 L799.5 305.8 L801.3 305.9 L803.0 306.0 L804.7 306.0 L806.4 306.1 L808.1 306.1 L809.8 306.2 L811.5 306.2 L813.3 306.3 L815.0 306.4 L816.7 306.4 L818.4 306.5 L820.1 306.5 L821.8 306.6 L823.5 306.6 L825.3 306.7 L827.0 306.7 L828.7 306.8 L830.4 306.9 L832.1 306.9 L833.8 307.0 L835.6 307.0 L837.3 307.1 L839.0 307.1 L840.7 307.2" fill="none" stroke="#D96B33" stroke-width="2.0" stroke-linejoin="round"/>
<!-- legend A -->
<rect x="530.2" y="33.7" width="336.7" height="84.2" rx="1.6" fill="#EAEAF2" stroke="#BDBDC4" stroke-width="1.4"/>
<line x1="536.5" y1="59.3" x2="581" y2="59.3" stroke="#4C72B0" stroke-width="2.4"/>
<line x1="536.5" y1="92.7" x2="581" y2="92.7" stroke="#DD8452" stroke-width="2.4"/>
<g class="sans heavy" font-size="17.45" fill="#111">
<text x="590.8" y="65.7">Abdominal physical examination</text>
<text x="590.8" y="98.9">No abdominal physical examination</text>
</g>
<text class="sans heavy" x="420.3" y="120.1" font-size="18.3" fill="#111">P=0.012</text>
<g class="serif" font-size="19.5" fill="#262626" text-anchor="end">
<text transform="translate(76.2 43.9) scale(0.965 1.07)">1.00</text><text transform="translate(76.2 93.2) scale(0.965 1.07)">0.98</text><text transform="translate(76.2 142.4) scale(0.965 1.07)">0.96</text><text transform="translate(76.2 191.7) scale(0.965 1.07)">0.94</text><text transform="translate(76.2 240.9) scale(0.965 1.07)">0.92</text><text transform="translate(76.2 290.2) scale(0.965 1.07)">0.90</text>
</g>
<g class="serif" font-size="19.5" fill="#262626" text-anchor="middle">
<text transform="translate(125.8 357) scale(1 1.07)">0</text><text transform="translate(268.6 357) scale(1 1.07)">20</text><text transform="translate(411.5 357) scale(1 1.07)">40</text><text transform="translate(554.3 357) scale(1 1.07)">60</text><text transform="translate(697.2 357) scale(1 1.07)">80</text><text transform="translate(840.0 357) scale(1 1.07)">100</text>
</g>
<text class="sans heavy" x="482" y="389" font-size="20" fill="#111" text-anchor="middle">Times (days)</text>
<text class="sans heavy" transform="translate(21.8 169.8) rotate(-90)" font-size="20" fill="#111" text-anchor="middle">Survival</text>

<!-- Panel B -->
<text class="sans" x="901" y="24" font-size="27" font-weight="bold" fill="#000">B</text>
<text class="sans heavy" transform="translate(936.8 177.3) rotate(-90)" font-size="22.4" fill="#000" text-anchor="middle">Length of ICU stay (days)</text>
<g class="sans" font-size="20" font-weight="bold" fill="#000" text-anchor="end">
<text x="963" y="328.4">0</text><text x="963" y="237.5">2</text><text x="963" y="146.7">4</text><text x="963" y="55.8">6</text>
</g>
<g stroke="#000" stroke-width="2.6" fill="none">
<line x1="977.4" y1="47.3" x2="977.4" y2="322.5"/>
<line x1="965.5" y1="321.4" x2="1160.2" y2="321.4"/>
<line x1="965.5" y1="321.2" x2="978" y2="321.2"/><line x1="965.5" y1="230.3" x2="978" y2="230.3"/><line x1="965.5" y1="139.5" x2="978" y2="139.5"/><line x1="965.5" y1="48.6" x2="978" y2="48.6"/>
</g>
<g fill="none" stroke-width="2.3">
<path d="M1004.5 321.4V92.2H1053.7V321.4" stroke="#3B62AA"/>
<path d="M1029.3 92.2V80.1M1016.4 80.1H1041.5" stroke="#3B62AA"/>
<path d="M1082.4 321.4V153.8H1131.3V321.4" stroke="#D7693C"/>
<path d="M1107 153.8V146.5M1094 146.5H1119.8" stroke="#D7693C"/>
</g>
<line x1="1032.8" y1="69" x2="1109.5" y2="69" stroke="#000" stroke-width="3"/>
<g font-family="DejaVu Sans, Liberation Sans, sans-serif" font-weight="bold" font-size="23" fill="#000" text-anchor="middle">
<text x="1050.3" y="62.8">*</text><text x="1063.8" y="62.8">*</text><text x="1077.4" y="62.8">*</text><text x="1090.6" y="62.8">*</text>
</g>
<!-- legend B -->
<rect x="1210.5" y="139" width="32.4" height="12.6" fill="none" stroke="#3B62AA" stroke-width="1.6"/>
<rect x="1210.5" y="167.6" width="32.4" height="13.6" fill="none" stroke="#D7693C" stroke-width="1.6"/>
<g class="sans heavy" font-size="17.7" fill="#000">
<text x="1253.5" y="152.1">Abdominal physical examination</text>
<text x="1253.5" y="180.5">No abdominal physical examination</text>
</g>
</svg>
</body></html>
